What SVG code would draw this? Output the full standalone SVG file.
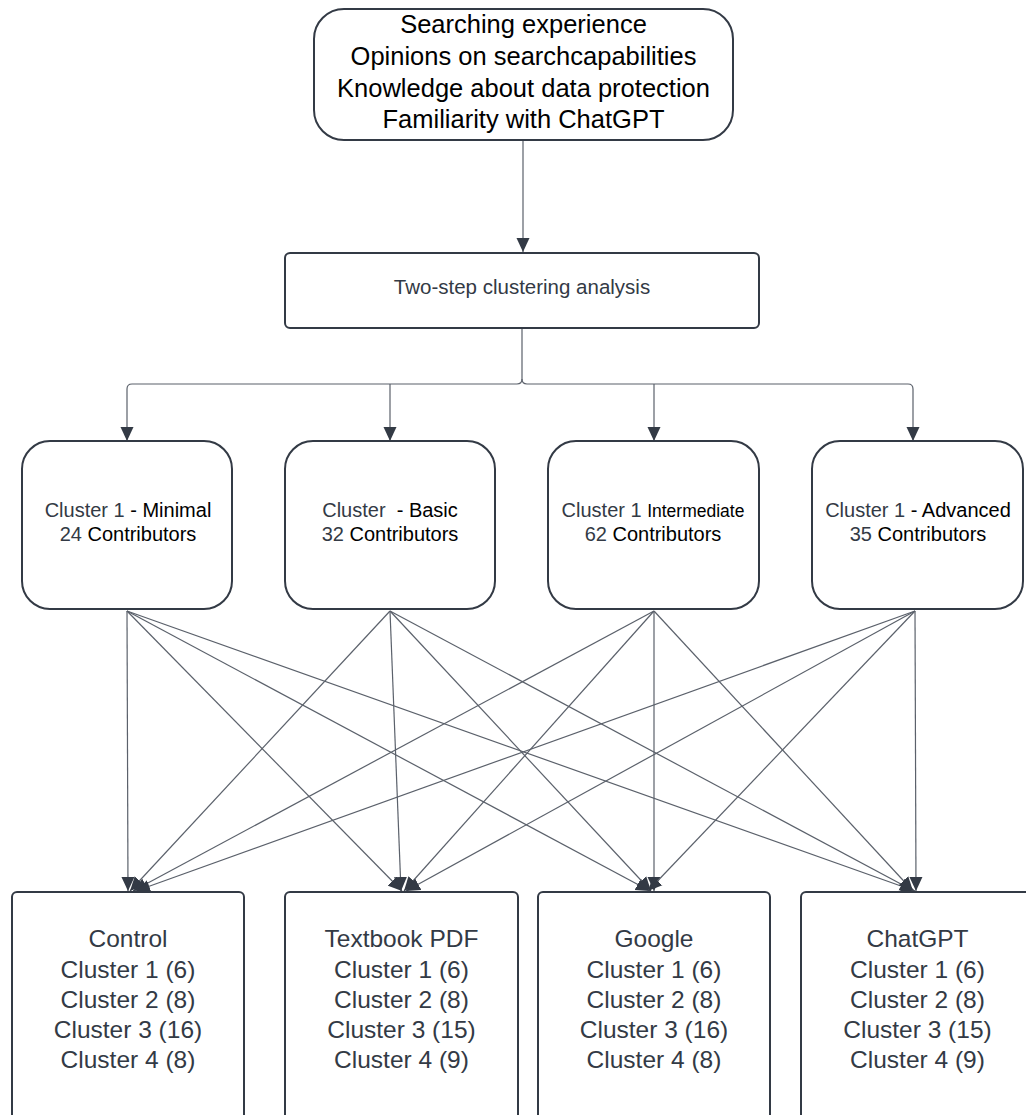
<svg xmlns="http://www.w3.org/2000/svg" width="1026" height="1115" viewBox="0 0 1026 1115">
<style>
.box{fill:#fff;stroke:#333a45;stroke-width:2}
.t{font-family:"Liberation Sans",Arial,sans-serif;text-anchor:middle;white-space:pre}
.g{fill:#333a45}
.k{fill:#000}
.c{fill:none;stroke:#5b616b;stroke-width:1.2}
</style>
<defs>
<marker id="ah" markerUnits="userSpaceOnUse" markerWidth="14" markerHeight="14" refX="14" refY="7" orient="auto">
<path d="M0,0.5 L14,7 L0,13.5 z" fill="#333a45"/>
</marker>
</defs>
<g id="connectors">
<path class="c" d="M523,141 V252" marker-end="url(#ah)"/>
<path class="c" d="M522,328 V379 Q522,384 517,384 H132 Q127,384 127,389 V441" marker-end="url(#ah)"/>
<path class="c" d="M522,379 Q522,384 527,384 H908 Q913,384 913,389 V441" marker-end="url(#ah)"/>
<path class="c" d="M390,384 V441" marker-end="url(#ah)"/>
<path class="c" d="M654,384 V441" marker-end="url(#ah)"/>
<line class="c" x1="127" y1="611" x2="128" y2="891" marker-end="url(#ah)"/>
<line class="c" x1="127" y1="611" x2="402" y2="891" marker-end="url(#ah)"/>
<line class="c" x1="127" y1="611" x2="650" y2="891" marker-end="url(#ah)"/>
<line class="c" x1="127" y1="611" x2="915" y2="891" marker-end="url(#ah)"/>
<line class="c" x1="390" y1="611" x2="130" y2="891" marker-end="url(#ah)"/>
<line class="c" x1="390" y1="611" x2="401" y2="891" marker-end="url(#ah)"/>
<line class="c" x1="390" y1="611" x2="651" y2="891" marker-end="url(#ah)"/>
<line class="c" x1="390" y1="611" x2="914" y2="891" marker-end="url(#ah)"/>
<line class="c" x1="654" y1="611" x2="133" y2="891" marker-end="url(#ah)"/>
<line class="c" x1="654" y1="611" x2="404" y2="891" marker-end="url(#ah)"/>
<line class="c" x1="654" y1="611" x2="654" y2="891" marker-end="url(#ah)"/>
<line class="c" x1="654" y1="611" x2="913" y2="891" marker-end="url(#ah)"/>
<line class="c" x1="915" y1="611" x2="136" y2="891" marker-end="url(#ah)"/>
<line class="c" x1="915" y1="611" x2="406" y2="891" marker-end="url(#ah)"/>
<line class="c" x1="915" y1="611" x2="648" y2="891" marker-end="url(#ah)"/>
<line class="c" x1="915" y1="611" x2="916" y2="891" marker-end="url(#ah)"/>
</g>
<g id="inputs">
<rect class="box" x="314" y="9" width="419" height="131" rx="30"/>
<text class="t k" font-size="25.5"><tspan x="523.5" y="33">Searching experience</tspan><tspan x="523.5" y="65">Opinions on searchcapabilities</tspan><tspan x="523.5" y="97">Knowledge about data protection</tspan><tspan x="523.5" y="128">Familiarity with ChatGPT</tspan></text>
</g>
<g id="analysis">
<rect class="box" x="285" y="253" width="474" height="75" rx="5"/>
<text class="t g" x="522" y="294" font-size="20.5">Two-step clustering analysis</text>
</g>
<g id="cluster-minimal">
<rect class="box" x="22" y="441" width="210" height="168" rx="28"/>
<text class="t" font-size="20"><tspan x="128" y="517"><tspan class="g">Cluster 1 </tspan><tspan class="k">- Minimal</tspan></tspan><tspan x="128" y="541"><tspan class="g">24 </tspan><tspan class="k">Contributors</tspan></tspan></text>
</g>
<g id="cluster-basic">
<rect class="box" x="285" y="441" width="210" height="168" rx="28"/>
<text class="t" font-size="20" xml:space="preserve"><tspan x="390" y="517"><tspan class="g">Cluster  </tspan><tspan class="k">- Basic</tspan></tspan><tspan x="390" y="541"><tspan class="g">32 </tspan><tspan class="k">Contributors</tspan></tspan></text>
</g>
<g id="cluster-intermediate">
<rect class="box" x="548" y="441" width="211" height="168" rx="28"/>
<text class="t" font-size="20"><tspan x="653" y="517"><tspan class="g">Cluster 1 </tspan><tspan class="k" font-size="17.5">Intermediate</tspan></tspan><tspan x="653" y="541"><tspan class="g">62 </tspan><tspan class="k">Contributors</tspan></tspan></text>
</g>
<g id="cluster-advanced">
<rect class="box" x="812" y="441" width="211" height="168" rx="28"/>
<text class="t" font-size="20"><tspan x="918" y="517"><tspan class="g">Cluster 1 </tspan><tspan class="k">- Advanced</tspan></tspan><tspan x="918" y="541"><tspan class="g">35 </tspan><tspan class="k">Contributors</tspan></tspan></text>
</g>
<g id="group-control">
<rect class="box" x="12" y="892" width="232" height="240" rx="5"/>
<text class="t g" font-size="24.5"><tspan x="128" y="947">Control</tspan><tspan x="128" y="978">Cluster 1 (6)</tspan><tspan x="128" y="1008">Cluster 2 (8)</tspan><tspan x="128" y="1038">Cluster 3 (16)</tspan><tspan x="128" y="1068">Cluster 4 (8)</tspan></text>
</g>
<g id="group-textbook">
<rect class="box" x="285" y="892" width="233" height="240" rx="5"/>
<text class="t g" font-size="24.5"><tspan x="401.5" y="947">Textbook PDF</tspan><tspan x="401.5" y="978">Cluster 1 (6)</tspan><tspan x="401.5" y="1008">Cluster 2 (8)</tspan><tspan x="401.5" y="1038">Cluster 3 (15)</tspan><tspan x="401.5" y="1068">Cluster 4 (9)</tspan></text>
</g>
<g id="group-google">
<rect class="box" x="538" y="892" width="232" height="240" rx="5"/>
<text class="t g" font-size="24.5"><tspan x="654" y="947">Google</tspan><tspan x="654" y="978">Cluster 1 (6)</tspan><tspan x="654" y="1008">Cluster 2 (8)</tspan><tspan x="654" y="1038">Cluster 3 (16)</tspan><tspan x="654" y="1068">Cluster 4 (8)</tspan></text>
</g>
<g id="group-chatgpt">
<rect class="box" x="801" y="892" width="233" height="240" rx="5"/>
<text class="t g" font-size="24.5"><tspan x="917.5" y="947">ChatGPT</tspan><tspan x="917.5" y="978">Cluster 1 (6)</tspan><tspan x="917.5" y="1008">Cluster 2 (8)</tspan><tspan x="917.5" y="1038">Cluster 3 (15)</tspan><tspan x="917.5" y="1068">Cluster 4 (9)</tspan></text>
</g>
</svg>
